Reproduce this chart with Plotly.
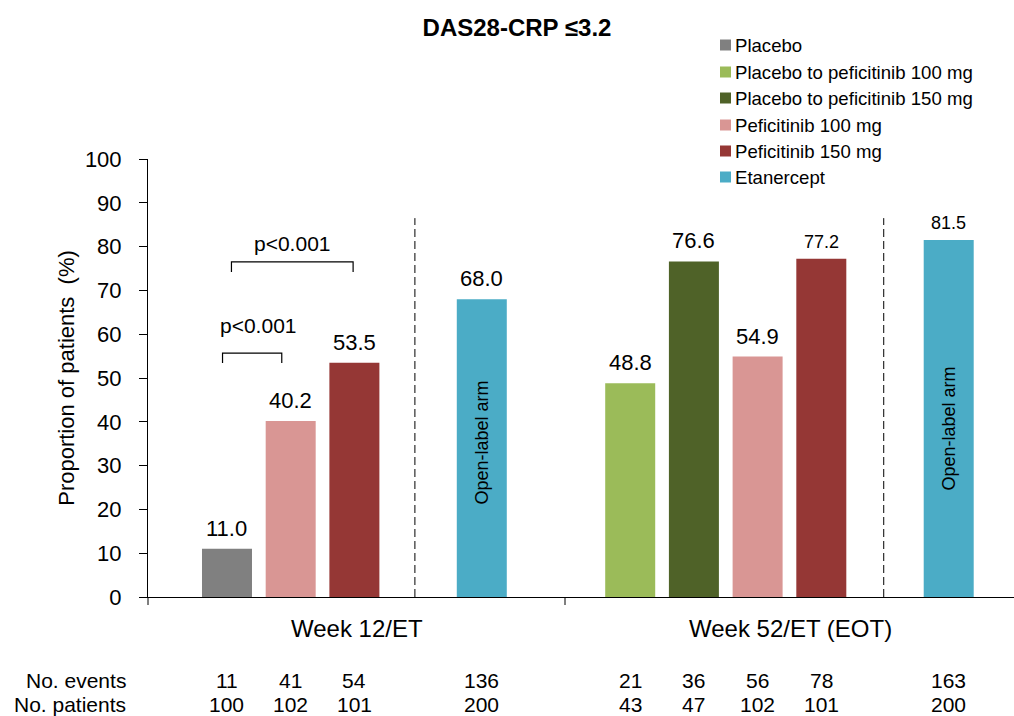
import plotly.graph_objects as go

# ---- data -----------------------------------------------------------------
arms = [
    "Placebo",
    "Placebo to peficitinib 100 mg",
    "Placebo to peficitinib 150 mg",
    "Peficitinib 100 mg",
    "Peficitinib 150 mg",
    "Etanercept",
]
group_labels = ["Week 12/ET", "Week 52/ET (EOT)"]

week12_arms = ["Placebo", "Peficitinib 100 mg", "Peficitinib 150 mg", "Etanercept"]
week12_pct = [11.0, 40.2, 53.5, 68.0]
week12_events = [11, 41, 54, 136]
week12_patients = [100, 102, 101, 200]

week52_arms = ["Placebo to peficitinib 100 mg", "Placebo to peficitinib 150 mg",
               "Peficitinib 100 mg", "Peficitinib 150 mg", "Etanercept"]
week52_pct = [48.8, 76.6, 54.9, 77.2, 81.5]
week52_events = [21, 36, 56, 78, 163]
week52_patients = [43, 47, 102, 101, 200]

p_labels = ["p<0.001", "p<0.001"]
open_label_text = "Open-label arm"

# ---- styling --------------------------------------------------------------
colors = {
    "Placebo": "#808080",
    "Placebo to peficitinib 100 mg": "#9BBB59",
    "Placebo to peficitinib 150 mg": "#4F6228",
    "Peficitinib 100 mg": "#D99694",
    "Peficitinib 150 mg": "#953735",
    "Etanercept": "#4BACC6",
}
FONT = "Arial, Liberation Sans, sans-serif"
BLACK = "#000000"
W, H = 1014, 716
ML, MR, MT, MB = 148, 0, 159, 119
PLOT_H = H - MT - MB

# slot layout: bar slots within each time-point group
week12_slots = [0, 1, 2, 4]
week52_offset = 6.33
week52_slots = [week52_offset + s for s in (0, 1, 2, 3, 5)]
bar_width = 0.785
x_range = [-1.24, 12.355]


def py(pixel_y):
    """pixel row -> paper y"""
    return (H - MB - pixel_y) / PLOT_H


def px(pixel_x):
    """pixel column -> paper x"""
    return (pixel_x - ML) / (W - ML - MR)


def font(size):
    return dict(family=FONT, size=size, color=BLACK)


fig = go.Figure()

for arm in arms:
    xs, ys = [], []
    for slots, names, vals in ((week12_slots, week12_arms, week12_pct),
                               (week52_slots, week52_arms, week52_pct)):
        for s, n, v in zip(slots, names, vals):
            if n == arm:
                xs.append(s)
                ys.append(v)
    fig.add_trace(go.Bar(
        x=xs, y=ys, name=arm, width=bar_width,
        marker=dict(color=colors[arm], line=dict(width=0)),
        showlegend=False,
    ))

annotations = []
shapes = []

# value labels above bars
small_value_labels = {(1, 3), (1, 4)}
for g, (slots, vals) in enumerate(((week12_slots, week12_pct), (week52_slots, week52_pct))):
    for i, (s, v) in enumerate(zip(slots, vals)):
        small = (g, i) in small_value_labels
        annotations.append(dict(
            x=s, y=v, text=f"{v:.1f}", showarrow=False, xref="x", yref="y",
            xanchor="center", yanchor="bottom", yshift=5 if small else 6,
            font=font(18 if small else 22),
        ))

# open-label text inside etanercept bars
for s, ypos in ((week12_slots[-1], 35.2), (week52_slots[-1], 38.4)):
    annotations.append(dict(
        x=s, y=ypos, text=open_label_text, textangle=-90, showarrow=False,
        xref="x", yref="y", xanchor="center", yanchor="middle", font=font(18),
    ))

# dashed separators before the open-label arm
for xs in (2.95, 10.31):
    shapes.append(dict(type="line", xref="x", yref="y", x0=xs, x1=xs, y0=0, y1=86.5,
                       line=dict(color=BLACK, width=1, dash="8px,4px")))

# significance brackets
brackets = [(-0.07, 0.86, 55.7, 53.4, 0.49, 62.1), (0.07, 1.98, 76.5, 74.2, 1.03, 80.8)]
for (x0, x1, ytop, ybot, tx, ty), lab in zip(brackets, p_labels):
    shapes.append(dict(type="path", xref="x", yref="y",
                       path=f"M {x0},{ybot} L {x0},{ytop} L {x1},{ytop} L {x1},{ybot}",
                       line=dict(color=BLACK, width=1.2)))
    annotations.append(dict(x=tx, y=ty, text=lab, showarrow=False, xref="x", yref="y",
                            xanchor="center", yanchor="middle", font=font(21)))

# x-axis group ticks
for tick_px in (ML, 565):
    shapes.append(dict(type="line", xref="paper", yref="paper", x0=px(tick_px), x1=px(tick_px),
                       y0=0, y1=py(H - MB + 8), line=dict(color=BLACK, width=1)))

# group labels
for lab, cx in zip(group_labels, (357, 790)):
    annotations.append(dict(x=px(cx), y=py(628), xref="paper", yref="paper", text=lab,
                            xanchor="center", yanchor="middle", showarrow=False, font=font(24)))

# events / patients table
for row_label, row_y, v12, v52 in (("No. events", 680, week12_events, week52_events),
                                   ("No. patients", 704, week12_patients, week52_patients)):
    annotations.append(dict(x=px(128), y=py(row_y), xref="paper", yref="paper", text=row_label,
                            xanchor="right", yanchor="middle", showarrow=False, font=font(21)))
    for s, v in list(zip(week12_slots, v12)) + list(zip(week52_slots, v52)):
        annotations.append(dict(x=s, y=py(row_y), xref="x", yref="paper", text=str(v),
                                xanchor="center", yanchor="middle", showarrow=False,
                                font=font(21)))

# legend (squares + labels)
legend_rows = [45, 72, 98, 125, 151, 177]
for arm, ry in zip(arms, legend_rows):
    shapes.append(dict(type="rect", xref="paper", yref="paper",
                       x0=px(720), x1=px(731), y0=py(ry + 5.5), y1=py(ry - 5.5),
                       fillcolor=colors[arm], line=dict(width=0)))
    annotations.append(dict(x=px(733), y=py(ry), xref="paper", yref="paper", text=arm,
                            xanchor="left", yanchor="middle", showarrow=False, font=font(18.6)))

fig.update_layout(
    width=W, height=H,
    margin=dict(l=ML, r=MR, t=MT, b=MB, pad=0),
    plot_bgcolor="#FFFFFF", paper_bgcolor="#FFFFFF",
    barmode="overlay",
    title=dict(text="<b>DAS28-CRP ≤3.2</b>", x=px(517), xref="paper", xanchor="center",
               y=1 - 28 / H, yanchor="middle", font=font(24)),
    xaxis=dict(range=x_range, showticklabels=False, showgrid=False, zeroline=False,
               showline=True, linecolor=BLACK, linewidth=1, ticks=""),
    yaxis=dict(range=[0, 100], dtick=10, tick0=0, showgrid=False, zeroline=False,
               showline=True, linecolor=BLACK, linewidth=1,
               ticks="outside", ticklen=8, tickcolor=BLACK, ticklabelstandoff=13,
               tickfont=font(22),
               title=dict(text="Proportion of patients  (%)", standoff=4, font=font(22))),
    annotations=annotations,
    shapes=shapes,
    showlegend=False,
)

fig.write_html("out.html")
